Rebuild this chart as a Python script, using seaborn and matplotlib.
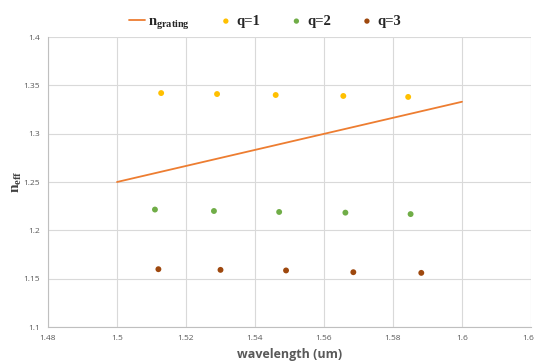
import matplotlib
matplotlib.use("Agg")
from matplotlib import pyplot as plt
import seaborn as sns
import pandas as pd

# grating index line
grating_wl = [1.50, 1.60]
grating_n = [1.250, 1.333]

# effective index of the modes
q1_wl = [1.5128, 1.5290, 1.5460, 1.5656, 1.5844]
q1_n = [1.342, 1.341, 1.340, 1.339, 1.338]
q2_wl = [1.5110, 1.5281, 1.5470, 1.5662, 1.5851]
q2_n = [1.2215, 1.2200, 1.2190, 1.2183, 1.2168]
q3_wl = [1.5120, 1.5300, 1.5490, 1.5685, 1.5882]
q3_n = [1.1598, 1.1591, 1.1585, 1.1567, 1.1560]

x_ticks = [1.48, 1.50, 1.52, 1.54, 1.56, 1.58, 1.60, 1.62]
x_tick_labels = ["1.48", "1.5", "1.52", "1.54", "1.56", "1.58", "1.6", "1.62"]
y_ticks = [1.10, 1.15, 1.20, 1.25, 1.30, 1.35, 1.40]
y_tick_labels = ["1.1", "1.15", "1.2", "1.25", "1.3", "1.35", "1.4"]

sns.set_style("white")
plt.rcParams['font.family'] = ['Open Sans', 'DejaVu Sans']

fig = plt.figure(figsize=(5.34, 3.63), dpi=100)
ax = fig.add_axes([48 / 534, 36 / 363, 483 / 534, 290 / 363])

sns.lineplot(x=grating_wl, y=grating_n, ax=ax, color='#ED7D31', linewidth=1.3,
             label=r'$\mathregular{n_{grating}}$')

for wl, n, color, name in [(q1_wl, q1_n, '#FFC000', 'q=1'),
                           (q2_wl, q2_n, '#70AD47', 'q=2'),
                           (q3_wl, q3_n, '#9E480E', 'q=3')]:
    df = pd.DataFrame({'wl': wl, 'n': n})
    sns.scatterplot(data=df, x='wl', y='n', ax=ax, color=color, s=18,
                    edgecolor='none', label=name)

ax.set_xlim(1.48, 1.62)
ax.set_ylim(1.10, 1.40)
ax.set_xticks(x_ticks)
ax.set_xticklabels(x_tick_labels)
ax.set_yticks(y_ticks)
ax.set_yticklabels(y_tick_labels)
ax.tick_params(labelsize=6, colors='#595959', length=0, pad=6)
ax.grid(True, color='#D9D9D9', linewidth=0.8)
for side in ['top', 'right']:
    ax.spines[side].set_visible(False)
for side in ['left', 'bottom']:
    ax.spines[side].set_color('#BFBFBF')
    ax.spines[side].set_linewidth(0.8)

ax.set_xlabel("wavelength (um)", fontsize=9, fontweight='bold', color='#595959', labelpad=4)
ax.set_ylabel(r'$\mathregular{n_{eff}}$', fontsize=11, fontweight='bold',
              family='Liberation Serif', color='#404040')
ax.yaxis.set_label_coords(-0.050, 0.5)

handles, labels = ax.get_legend_handles_labels()
ax.legend_.remove()
fig.legend(handles, labels, loc='center', bbox_to_anchor=(0.497, 0.937), ncol=4,
           frameon=False, columnspacing=1.9, handlelength=1.1, handletextpad=0.2,
           markerscale=0.9,
           prop={'family': 'Liberation Serif', 'weight': 'bold', 'size': 10.5})

fig.savefig("out.png", dpi=100)
